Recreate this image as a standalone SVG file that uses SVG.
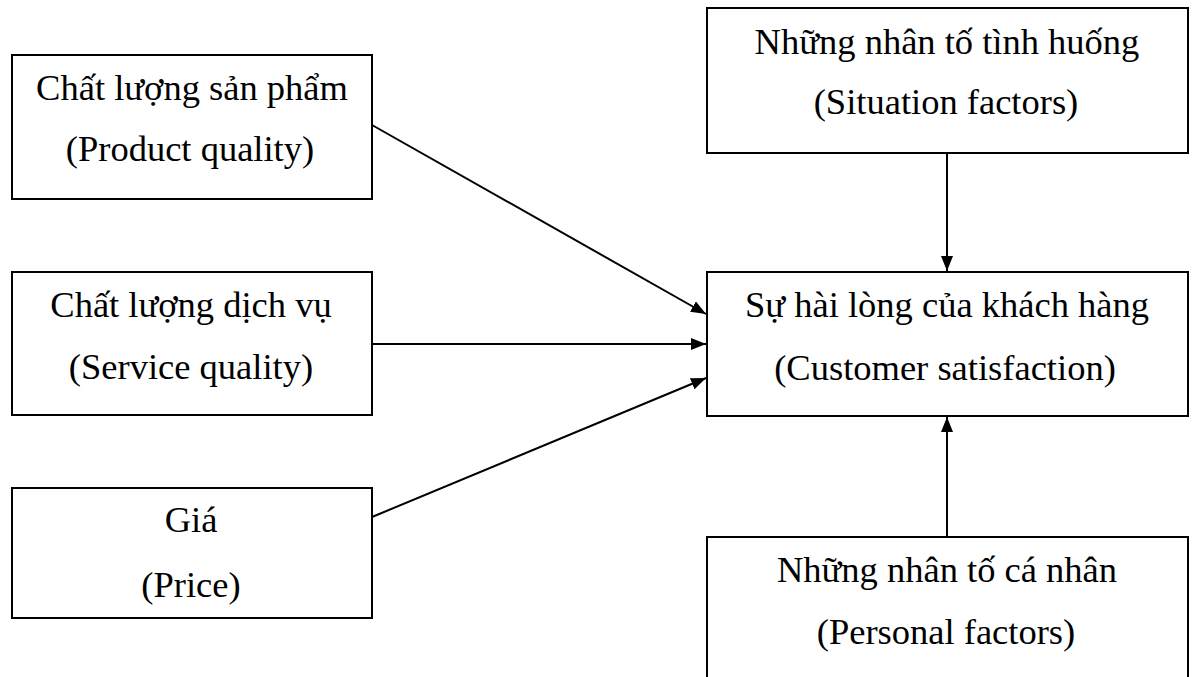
<svg xmlns="http://www.w3.org/2000/svg" width="1195" height="677" viewBox="0 0 1195 677">
<style>
.box{fill:#fff;stroke:#000;stroke-width:2}
.t{font-family:"Liberation Serif","Times New Roman",serif;font-size:36.5px;fill:#000;text-anchor:middle}
.c{stroke:#000;stroke-width:2;fill:none;marker-end:url(#ah)}
</style>
<defs>
<marker id="ah" markerWidth="16" markerHeight="12" refX="15" refY="6" orient="auto" markerUnits="userSpaceOnUse">
<path d="M0,0 L15,6 L0,12 Z" fill="#000"/>
</marker>
</defs>
<rect width="1195" height="677" fill="#fff"/>
<g id="product">
<rect class="box" x="12" y="55" width="360" height="144"/>
<text class="t" x="192" y="100">Chất lượng sản phẩm</text>
<text class="t" x="190" y="161">(Product quality)</text>
</g>
<g id="service">
<rect class="box" x="12" y="272" width="360" height="143"/>
<text class="t" x="191" y="317">Chất lượng dịch vụ</text>
<text class="t" x="191" y="379">(Service quality)</text>
</g>
<g id="price">
<rect class="box" x="12" y="488" width="360" height="130"/>
<text class="t" x="191" y="532">Giá</text>
<text class="t" x="191" y="597">(Price)</text>
</g>
<g id="situation">
<rect class="box" x="707" y="8" width="481" height="145"/>
<text class="t" x="947" y="54">Những nhân tố tình huống</text>
<text class="t" x="946" y="114">(Situation factors)</text>
</g>
<g id="customer">
<rect class="box" x="707" y="272" width="481" height="144"/>
<text class="t" x="947" y="317">Sự hài lòng của khách hàng</text>
<text class="t" x="945" y="380">(Customer satisfaction)</text>
</g>
<g id="personal">
<rect class="box" x="707" y="537" width="481" height="150"/>
<text class="t" x="947" y="582">Những nhân tố cá nhân</text>
<text class="t" x="946" y="644">(Personal factors)</text>
</g>
<g id="connectors">
<line class="c" x1="372" y1="125" x2="706" y2="314"/>
<line class="c" x1="372" y1="344" x2="706" y2="344"/>
<line class="c" x1="372" y1="517" x2="706" y2="378"/>
<line class="c" x1="947" y1="153" x2="947" y2="271"/>
<line class="c" x1="947" y1="537" x2="947" y2="417"/>
</g>
</svg>
